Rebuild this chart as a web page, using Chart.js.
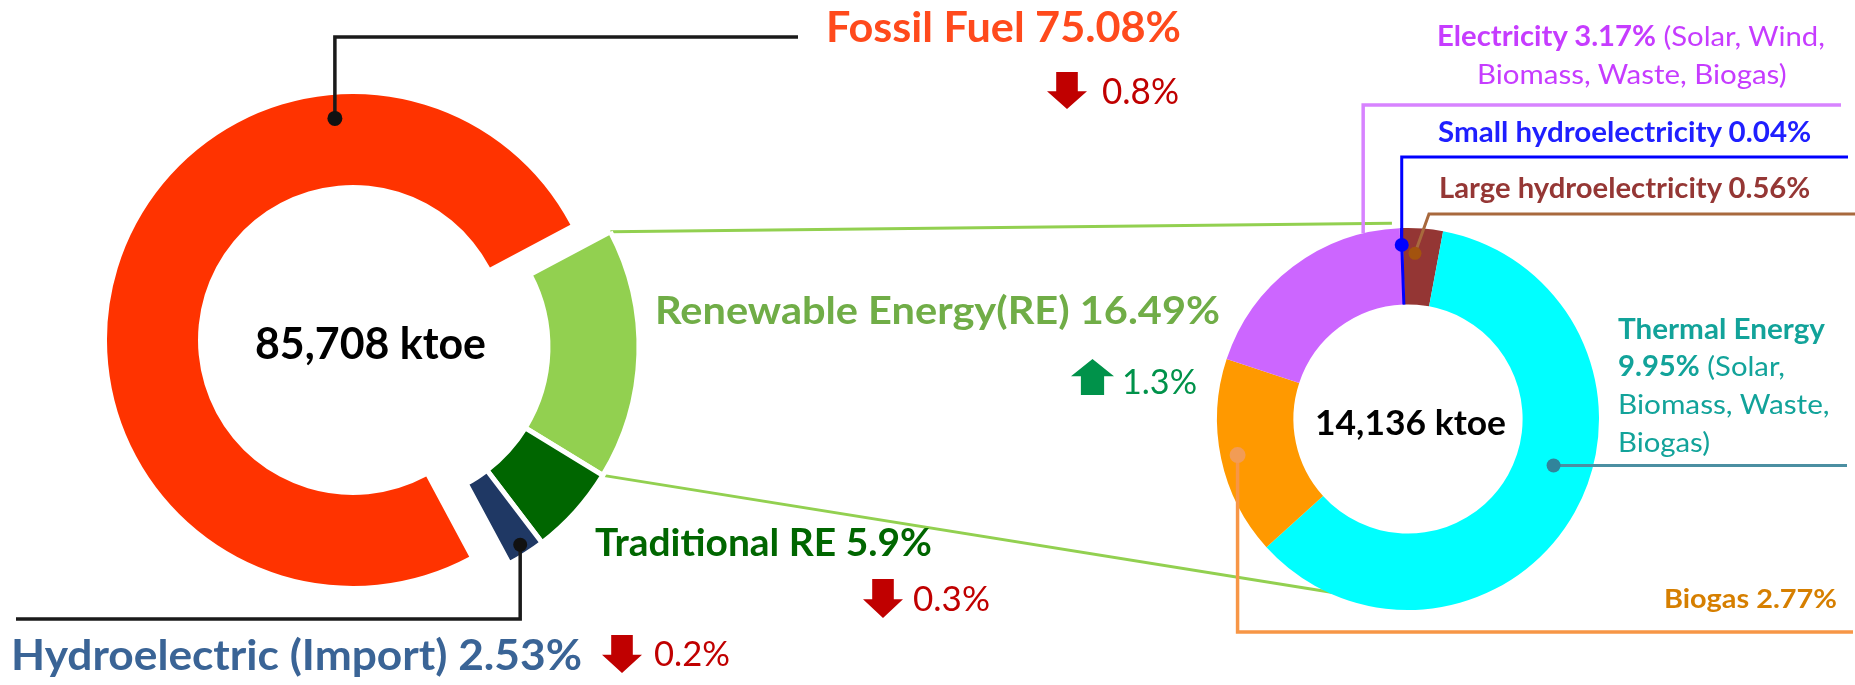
<!DOCTYPE html>
<html>
<head>
<meta charset="utf-8">
<title>Energy supply mix</title>
<script src="https://cdn.jsdelivr.net/npm/chart.js@4.4.1/dist/chart.umd.min.js"></script>
<style>
  html, body { margin: 0; padding: 0; background: #fff; }
  #stage { position: relative; width: 1855px; height: 685px; overflow: hidden; font-family: Lato, "Open Sans", sans-serif; }
  #stage canvas.layer { position: absolute; left: 0; top: 0; }
  .donut { position: absolute; }
  .lbl { position: absolute; white-space: nowrap; transform-origin: 0 0; }
</style>
</head>
<body>
<div id="stage">
  <canvas id="back" class="layer" width="1855" height="685"></canvas>
  <div class="donut" id="mix-wrap"><canvas id="mix-chart"></canvas></div>
  <div class="donut" id="group-wrap"><canvas id="group-chart"></canvas></div>
  <div class="donut" id="re-wrap"><canvas id="re-chart"></canvas></div>
  <canvas id="front" class="layer" width="1855" height="685"></canvas>
</div>
<script>
// ---- data: total energy supply ----
const mixLabels  = ["Fossil Fuel", "Renewable Energy(RE)", "Traditional RE", "Hydroelectric (Import)"];
const mixShares  = [75.08, 16.49, 5.9, 2.53];
const mixChanges = [-0.8, 1.3, -0.3, -0.2];
const mixTotal   = "85,708 ktoe";

// ---- data: renewable energy breakdown ----
const reLabels  = ["Small hydroelectricity", "Large hydroelectricity", "Thermal Energy", "Biogas", "Electricity"];
const reShares  = [0.04, 0.56, 9.95, 2.77, 3.17];
const reSources = ["", "", "(Solar, Biomass, Waste, Biogas)", "", "(Solar, Wind, Biomass, Waste, Biogas)"];
const reTotal   = "14,136 ktoe";

// ---- styles ----
const MIX_COLORS = ["#FF3300", "#92D050", "#006600", "#1F3864"];
const RE_COLORS  = ["#0000FF", "#943634", "#00FFFF", "#FF9900", "#CC66FF"];
const UP_COLOR = "#00924A", DOWN_COLOR = "#C00000";

// donut geometry (page px)
const MIX = { cx: 353, cy: 340, r: 246, cutout: "63%", rotation: 151.8 };
const GROUP_SHIFT = { dx: 40, dy: 7 };   // exploded renewable slices
const RE  = { cx: 1408, cy: 419, r: 191, cutout: "60%", rotation: -2.5 };

function makeDonut(wrapId, canvasId, cx, cy, geo, labels, data, colors, borders) {
  const size = 2 * geo.r + 24;
  const wrap = document.getElementById(wrapId);
  wrap.style.left = (cx - size / 2) + "px";
  wrap.style.top  = (cy - size / 2) + "px";
  const cv = document.getElementById(canvasId);
  cv.width = size; cv.height = size;
  const chart = new Chart(cv, {
    type: "doughnut",
    data: {
      labels,
      datasets: [{
        data,
        backgroundColor: colors,
        borderColor: "#FFFFFF",
        borderWidth: borders,
        hoverBorderWidth: borders,
        hoverOffset: 0,
      }]
    },
    options: {
      responsive: false,
      animation: false,
      events: [],
      devicePixelRatio: 1,
      radius: geo.r,
      cutout: geo.cutout,
      rotation: geo.rotation,
      layout: { padding: 0 },
      plugins: { legend: { display: false }, tooltip: { enabled: false } }
    }
  });
  chart.$origin = { x: cx - size / 2, y: cy - size / 2 };
  return chart;
}

// fossil slice on its own, renewable slices pulled out as one group
const mixChart = makeDonut("mix-wrap", "mix-chart", MIX.cx, MIX.cy, MIX, mixLabels, mixShares,
  MIX_COLORS.map((c, i) => i === 0 ? c : "rgba(0,0,0,0)"), [0, 0, 0, 0]);
const groupChart = makeDonut("group-wrap", "group-chart", MIX.cx + GROUP_SHIFT.dx, MIX.cy + GROUP_SHIFT.dy, MIX,
  mixLabels, mixShares, MIX_COLORS.map((c, i) => i === 0 ? "rgba(0,0,0,0)" : c), [0, 5, 5, 5]);
const reChart = makeDonut("re-wrap", "re-chart", RE.cx, RE.cy, RE, reLabels, reShares, RE_COLORS, 0);

// point inside slice i: t = fraction along the angle, f = fraction from inner to outer radius
function arcPoint(chart, i, t, f) {
  const el = chart.getDatasetMeta(0).data[i];
  const a = el.startAngle + t * (el.endAngle - el.startAngle);
  const rad = el.innerRadius + f * (el.outerRadius - el.innerRadius);
  return { x: chart.$origin.x + el.x + rad * Math.cos(a), y: chart.$origin.y + el.y + rad * Math.sin(a) };
}
function ringPoint(chart, deg, f) {
  const el = chart.getDatasetMeta(0).data[0];
  const a = (deg - 90) * Math.PI / 180;
  const rad = el.innerRadius + f * (el.outerRadius - el.innerRadius);
  return { x: chart.$origin.x + el.x + rad * Math.cos(a), y: chart.$origin.y + el.y + rad * Math.sin(a) };
}

function polyline(ctx, pts, color, width) {
  ctx.beginPath();
  ctx.moveTo(pts[0].x, pts[0].y);
  pts.slice(1).forEach(p => ctx.lineTo(p.x, p.y));
  ctx.strokeStyle = color;
  ctx.lineWidth = width;
  ctx.lineJoin = "miter";
  ctx.stroke();
}
function dot(ctx, p, r, color) {
  ctx.beginPath();
  ctx.arc(p.x, p.y, r, 0, Math.PI * 2);
  ctx.fillStyle = color;
  ctx.fill();
}

// zoom connectors behind the donuts
const back = document.getElementById("back").getContext("2d");
polyline(back, [arcPoint(groupChart, 1, 0, 1), ringPoint(reChart, -4.7, 1.07)], "#92D050", 3);
polyline(back, [arcPoint(groupChart, 1, 1, 1), ringPoint(reChart, 203, 0.97)], "#92D050", 3);

// leader lines
const front = document.getElementById("front").getContext("2d");
const leaders = [
  { chart: mixChart, i: 0, t: 0.753, f: 0.74, dot: 7.5, dotColor: "#111", color: "#1A1A1A", width: 3.5,
    path: p => [p, { x: p.x, y: 37 }, { x: 798, y: 37 }] },
  { chart: groupChart, i: 3, t: 0.5, f: 0.88, dot: 7, dotColor: "#111", color: "#1A1A1A", width: 3.5,
    path: p => [p, { x: p.x, y: 619 }, { x: 16, y: 619 }] },
  { chart: reChart, i: 0, t: 0.5, f: 0.78, dot: 7, dotColor: "#0000FF", color: "#0000FF", width: 3,
    path: p => [arcPoint(reChart, 0, 0.5, 0), p, { x: p.x, y: 157 }, { x: 1848, y: 157 }] },
  { chart: reChart, i: 1, t: 0.33, f: 0.67, dot: 6.5, dotColor: "#A3530E", color: "#A8693D", width: 3,
    path: p => [p, { x: p.x + 14, y: 214 }, { x: 1855, y: 214 }] },
  { chart: reChart, i: 4, t: 0.84, f: 1.0, dot: 0, color: "#D783FF", width: 3.5,
    path: p => [p, { x: p.x, y: 105 }, { x: 1841, y: 105 }] },
  { chart: reChart, i: 2, t: 0.447, f: 0.5, dot: 7, dotColor: "#31849B", color: "#4B8FA2", width: 3,
    path: p => [p, { x: 1847, y: p.y }] },
  { chart: reChart, i: 3, t: 0.5, f: 0.78, dot: 8, dotColor: "#F29C55", color: "#F79646", width: 3.5,
    path: p => [p, { x: p.x, y: 632 }, { x: 1853, y: 632 }] },
];
leaders.forEach(l => {
  const p = arcPoint(l.chart, l.i, l.t, l.f);
  polyline(front, l.path(p), l.color, l.width);
  if (l.dot) dot(front, p, l.dot, l.dotColor);
});

// change arrows, direction from the sign of the change
const changeLayout = [
  { x: 1102, base: 104, cap: 26, w: 77, arrow: [1047, 72, 1087, 109] },
  { x: 1122, base: 394, cap: 25, w: 75, arrow: [1071, 359, 1114, 395] },
  { x: 913,  base: 611, cap: 25, w: 77, arrow: [863, 579, 903, 618] },
  { x: 654,  base: 666, cap: 25, w: 76, arrow: [602, 635, 642, 673] },
];
function arrow(ctx, box, up, color) {
  const [x0, y0, x1, y1] = box;
  const cx = (x0 + x1) / 2, sw = (x1 - x0) * 0.27, hh = (y1 - y0) * 0.48;
  ctx.beginPath();
  if (up) {
    ctx.moveTo(cx, y0); ctx.lineTo(x1, y0 + hh); ctx.lineTo(cx + sw, y0 + hh); ctx.lineTo(cx + sw, y1);
    ctx.lineTo(cx - sw, y1); ctx.lineTo(cx - sw, y0 + hh); ctx.lineTo(x0, y0 + hh);
  } else {
    ctx.moveTo(cx - sw, y0); ctx.lineTo(cx + sw, y0); ctx.lineTo(cx + sw, y1 - hh); ctx.lineTo(x1, y1 - hh);
    ctx.lineTo(cx, y1); ctx.lineTo(x0, y1 - hh); ctx.lineTo(cx - sw, y1 - hh);
  }
  ctx.closePath();
  ctx.fillStyle = color;
  ctx.fill();
}
mixChanges.forEach((v, i) => arrow(front, changeLayout[i].arrow, v > 0, v > 0 ? UP_COLOR : DOWN_COLOR));

// ---- text labels ----
const CAP = 0.717;   // Lato cap height / em
const mctx = document.createElement("canvas").getContext("2d");
const stage = document.getElementById("stage");
function addLabel(l) {
  const fs = l.cap / CAP;
  let natural = 0, asc = 0, desc = 0;
  l.runs.forEach(([text, bold]) => {
    mctx.font = `${bold ? 700 : 400} ${fs}px Lato`;
    const m = mctx.measureText(text);
    natural += m.width;
    asc = Math.max(asc, m.fontBoundingBoxAscent || fs * 0.987);
    desc = Math.max(desc, m.fontBoundingBoxDescent || fs * 0.213);
  });
  const div = document.createElement("div");
  div.className = "lbl";
  div.style.fontSize = fs + "px";
  div.style.lineHeight = (asc + desc) + "px";
  div.style.left = l.x + "px";
  div.style.top = (l.base - asc) + "px";
  div.style.color = l.color;
  div.style.transform = `scaleX(${(l.w / natural).toFixed(4)})`;
  l.runs.forEach(([text, bold]) => {
    const s = document.createElement("span");
    s.style.fontWeight = bold ? 700 : 400;
    s.textContent = text;
    div.appendChild(s);
  });
  stage.appendChild(div);
}

const pct = v => v + "%";
const mixText = i => `${mixLabels[i]} ${pct(mixShares[i])}`;
const reText = i => `${reLabels[i]} ${pct(reShares[i])}`;
const words = i => reSources[i].split(" ");

const textLayout = [
  { x: 255,  base: 359,   cap: 31.5, w: 231, color: "#000000", runs: [[mixTotal, 1]] },
  { x: 826,  base: 42,    cap: 30,   w: 355, color: "#FF4A1C", runs: [[mixText(0), 1]] },
  { x: 655,  base: 324,   cap: 27,   w: 565, color: "#70AD47", runs: [[mixText(1), 1]] },
  { x: 595,  base: 555.5, cap: 27,   w: 337, color: "#006600", runs: [[mixText(2), 1]] },
  { x: 11,   base: 670,   cap: 30,   w: 571, color: "#3A6496", runs: [[mixText(3), 1]] },
  { x: 1315, base: 434.5, cap: 25,   w: 191, color: "#000000", runs: [[reTotal, 1]] },
  { x: 1437, base: 46,    cap: 20,   w: 389, color: "#C63CFF",
    runs: [[reText(4), 1], [" " + words(4).slice(0, 2).join(" "), 0]] },
  { x: 1477, base: 84,    cap: 20,   w: 310, color: "#C63CFF", runs: [[words(4).slice(2).join(" "), 0]] },
  { x: 1438, base: 142,   cap: 20,   w: 374, color: "#1F1FFF", runs: [[reText(0), 1]] },
  { x: 1439, base: 197.5, cap: 20,   w: 372, color: "#953735", runs: [[reText(1), 1]] },
  { x: 1618, base: 339,   cap: 20,   w: 207, color: "#12A39A", runs: [[reLabels[2], 1]] },
  { x: 1618, base: 376,   cap: 20,   w: 167, color: "#12A39A",
    runs: [[pct(reShares[2]), 1], [" " + words(2)[0], 0]] },
  { x: 1618, base: 414,   cap: 20,   w: 212, color: "#12A39A", runs: [[words(2).slice(1, 3).join(" "), 0]] },
  { x: 1618, base: 452,   cap: 20,   w: 92,  color: "#12A39A", runs: [[words(2).slice(3).join(" "), 0]] },
  { x: 1664, base: 607.5, cap: 19.5, w: 173, color: "#D67F00", runs: [[reText(3), 1]] },
];
textLayout.forEach(addLabel);

mixChanges.forEach((v, i) => {
  const c = changeLayout[i];
  addLabel({ x: c.x, base: c.base, cap: c.cap, w: c.w, color: v > 0 ? UP_COLOR : DOWN_COLOR,
    runs: [[pct(Math.abs(v)), 0]] });
});
</script>
</body>
</html>
